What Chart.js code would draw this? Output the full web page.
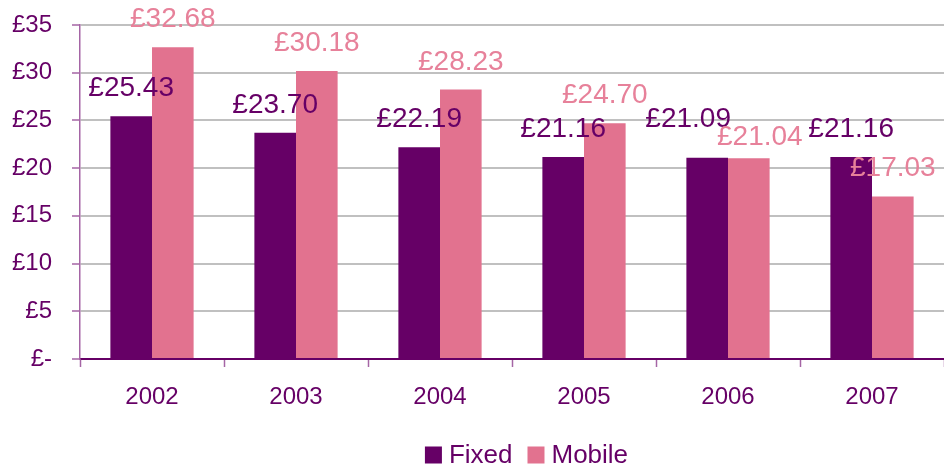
<!DOCTYPE html>
<html>
<head>
<meta charset="utf-8">
<script src="https://cdn.jsdelivr.net/npm/chart.js@4/dist/chart.umd.min.js"></script>
<style>
  html, body { margin: 0; padding: 0; background: #fff; }
  canvas { display: block; }
</style>
</head>
<body>
<canvas id="grafico" width="944" height="468"></canvas>
<script>
// datos del gráfico
const anios = ['2002', '2003', '2004', '2005', '2006', '2007'];
const fijo = [25.43, 23.70, 22.19, 21.16, 21.09, 21.16];
const movil = [32.68, 30.18, 28.23, 24.70, 21.04, 17.03];
const series = ['Fixed', 'Mobile'];

const morado = '#660066';
const rosa = '#E2728F';
const rosaTexto = '#E7819A';
const fuente = "'Liberation Sans', Arial, sans-serif";

// etiquetas de valores encima de las barras
const etiquetas = {
    id: 'etiquetas',
    afterDatasetsDraw(chart) {
        const ctx = chart.ctx;
        ctx.save();
        ctx.font = '28px ' + fuente;
        ctx.textBaseline = 'alphabetic';
        ctx.textAlign = 'left';
        const m0 = chart.getDatasetMeta(0);
        const m1 = chart.getDatasetMeta(1);
        anios.forEach((_, i) => {
            const items = [
                { bar: m0.data[i], v: fijo[i], color: morado },
                { bar: m1.data[i], v: movil[i], color: rosaTexto }
            ].map(o => {
                const txt = '£' + o.v.toFixed(2);
                const w = ctx.measureText(txt).width;
                return { txt, w, color: o.color, x: o.bar.x - w / 2, y: o.bar.y - 20 };
            });
            // si se tocan, separarlas un poco (como hace Excel)
            const a = items[0], b = items[1];
            if (Math.abs(a.y - b.y) < 22 && a.x + a.w > b.x) {
                a.x -= 19; a.y -= 11;
                b.x += 11; b.y += 7;
            }
            items.forEach(it => {
                let x = it.x;
                if (x + it.w > chart.width - 1) x = chart.width - 1 - it.w;
                ctx.fillStyle = it.color;
                ctx.fillText(it.txt, x, it.y);
            });
        });
        ctx.restore();
    }
};

// leyenda dibujada a mano para controlar la posición
const leyenda = {
    id: 'leyenda',
    afterDraw(chart) {
        const ctx = chart.ctx;
        ctx.save();
        ctx.font = '26px ' + fuente;
        ctx.textBaseline = 'middle';
        ctx.textAlign = 'left';
        const caja = 17, hueco = 7, sep = 15;
        const anchos = series.map(s => caja + hueco + ctx.measureText(s).width);
        const total = anchos.reduce((a, b) => a + b, 0) + sep * (series.length - 1);
        let x = 526.5 - total / 2;
        const yc = 455;
        series.forEach((s, i) => {
            ctx.fillStyle = chart.data.datasets[i].backgroundColor;
            ctx.fillRect(x, yc - caja / 2, caja, caja);
            ctx.fillStyle = morado;
            ctx.fillText(s, x + caja + hueco, yc + 1);
            x += anchos[i] + sep;
        });
        ctx.restore();
    }
};

new Chart(document.getElementById('grafico').getContext('2d'), {
    type: 'bar',
    data: {
        labels: anios,
        datasets: [
            { label: series[0], data: fijo, backgroundColor: morado },
            { label: series[1], data: movil, backgroundColor: rosa }
        ]
    },
    options: {
        responsive: false,
        animation: false,
        devicePixelRatio: 1,
        layout: { padding: { top: 25, right: 0, left: 0, bottom: 0 } },
        datasets: { bar: { categoryPercentage: 0.578, barPercentage: 1.0 } },
        plugins: {
            legend: { display: false },
            tooltip: { enabled: false }
        },
        scales: {
            x: {
                afterFit: (s) => { s.height = 109; },
                grid: {
                    display: true,
                    drawOnChartArea: false,
                    offset: true,
                    tickLength: 8,
                    tickColor: '#A565A5',
                    tickWidth: 1.5
                },
                border: { color: morado, width: 1.5 },
                ticks: {
                    color: morado,
                    padding: 16,
                    font: { family: fuente, size: 24 }
                }
            },
            y: {
                min: 0,
                max: 35,
                afterFit: (s) => {
                    s.width = 80;
                    s.paddingTop = 0;
                    s.paddingBottom = 0;
                },
                grid: {
                    color: (c) => c.tick && c.tick.value === 0 ? morado : '#C0C0C0',
                    lineWidth: 2,
                    tickLength: 8,
                    tickColor: '#A565A5',
                    tickWidth: 1.5
                },
                border: { color: '#A565A5', width: 1.5 },
                ticks: {
                    stepSize: 5,
                    color: morado,
                    padding: 20,
                    font: { family: fuente, size: 24 },
                    callback: (v) => v === 0 ? '£-' : '£' + v
                }
            }
        }
    },
    plugins: [etiquetas, leyenda]
});
</script>
</body>
</html>
